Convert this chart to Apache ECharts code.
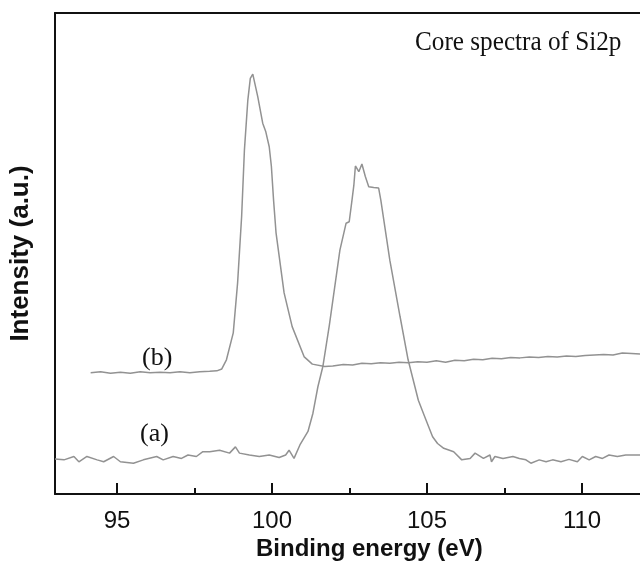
<!DOCTYPE html>
<html>
<head>
<meta charset="utf-8">
<script src="https://cdn.jsdelivr.net/npm/echarts@6/dist/echarts.min.js"></script>
<style>
  html, body { margin: 0; padding: 0; background: #fff; }
  #chart { width: 640px; height: 572px; }
</style>
</head>
<body>
<div id="chart"></div>
<script>
// Si2p core spectra (intensity in a.u., 0-100)
var energyA = [93.00, 93.29, 93.61, 93.77, 94.03, 94.36, 94.57, 94.89, 95.11, 95.53,
    95.85, 96.28, 96.49, 96.81, 97.08, 97.29, 97.56, 97.77, 97.99, 98.31,
    98.63, 98.82, 98.95, 99.27, 99.59, 99.91, 100.23, 100.44, 100.55, 100.71,
    100.90, 101.16, 101.32, 101.48, 101.64, 101.85, 102.19, 102.39, 102.49, 102.58,
    102.64, 102.69, 102.80, 102.90, 103.01, 103.12, 103.28, 103.44, 103.49, 103.51,
    103.80, 104.13, 104.39, 104.72, 104.91, 105.18, 105.34, 105.54, 105.86, 106.12,
    106.39, 106.55, 106.82, 107.03, 107.08, 107.19, 107.45, 107.77, 107.98, 108.19,
    108.35, 108.62, 108.84, 109.05, 109.32, 109.58, 109.85, 110.01, 110.23, 110.44,
    110.66, 110.87, 111.14, 111.41, 111.87];
var intensityA = [7.3, 7.1, 7.8, 6.7, 7.8, 7.1, 6.7, 7.8, 6.7, 6.4,
    7.1, 7.8, 7.1, 7.8, 7.4, 8.1, 7.8, 8.8, 8.8, 9.1,
    8.5, 9.8, 8.5, 8.1, 7.8, 8.1, 7.6, 8.1, 9.1, 7.4,
    10.2, 13.0, 16.8, 22.3, 26.5, 35.1, 50.7, 56.3, 56.6, 61.1,
    64.2, 68.2, 67.0, 68.6, 66.0, 63.9, 63.7, 63.6, 63.4, 61.1,
    48.6, 36.9, 27.9, 19.5, 16.3, 11.9, 10.5, 9.5, 8.8, 7.1,
    7.4, 8.5, 7.4, 8.1, 6.7, 7.8, 7.4, 7.8, 7.4, 7.1,
    6.4, 7.1, 6.7, 7.1, 6.7, 7.2, 6.7, 7.8, 7.1, 7.8,
    7.4, 8.1, 7.8, 8.1, 8.1];

var energyB = [94.15, 94.47, 94.79, 95.11, 95.43, 95.75, 96.07, 96.39, 96.71, 97.03,
    97.35, 97.67, 97.99, 98.22, 98.38, 98.53, 98.75, 98.89, 99.02, 99.11,
    99.22, 99.30, 99.38, 99.43, 99.54, 99.70, 99.80, 99.91, 99.98, 100.05,
    100.13, 100.39, 100.65, 101.04, 101.30, 101.70, 101.96, 102.3, 102.6, 102.9,
    103.2, 103.5, 103.8, 104.1, 104.4, 104.7, 105.0, 105.3, 105.6, 105.9,
    106.2, 106.5, 106.8, 107.1, 107.4, 107.7, 108.0, 108.3, 108.6, 108.9,
    109.2, 109.5, 109.8, 110.1, 110.4, 110.7, 111.0, 111.3, 111.6, 111.87];
var intensityB = [25.2, 25.4, 25.1, 25.3, 25.1, 25.4, 25.2, 25.3, 25.2, 25.4,
    25.2, 25.4, 25.5, 25.6, 26.0, 27.9, 33.5, 43.9, 57.7, 71.5,
    81.9, 86.4, 87.3, 87.1, 82.6, 77.1, 75.3, 72.2, 68.1, 61.1,
    54.3, 41.8, 34.8, 28.5, 27.0, 26.5, 26.6, 26.9, 26.8, 27.2,
    27.1, 27.3, 27.2, 27.4, 27.3, 27.5, 27.4, 27.7, 27.4, 27.8,
    27.7, 28.0, 27.9, 28.2, 28.1, 28.4, 28.3, 28.5, 28.4, 28.6,
    28.5, 28.7, 28.6, 28.8, 28.9, 29.0, 28.9, 29.3, 29.2, 29.1];

var majorTicks = [95, 100, 105, 110];
var minorTicks = [97.5, 102.5, 107.5];

function pairs(xs, ys) {
    return xs.map(function (x, i) { return [x, ys[i]]; });
}

var chart = echarts.init(document.getElementById('chart'));
var lineColor = '#929292';
var sans = 'Liberation Sans, Arial, sans-serif';
var serif = 'Liberation Serif, Times New Roman, serif';

chart.setOption({
    animation: false,
    backgroundColor: '#fff',
    grid: { left: 51, top: 13, right: 0, bottom: 78 },
    xAxis: [
        {
            type: 'value', min: 93, max: 111.87, position: 'bottom',
            axisLine: { lineStyle: { color: '#111', width: 2 } },
            axisTick: { inside: true, length: 11, customValues: majorTicks, lineStyle: { color: '#111', width: 2 } },
            axisLabel: { customValues: majorTicks, margin: 15, fontSize: 24, color: '#111', fontFamily: sans },
            splitLine: { show: false }
        },
        {
            type: 'value', min: 93, max: 111.87, position: 'bottom',
            axisLine: { show: false },
            axisTick: { inside: true, length: 6, customValues: minorTicks, lineStyle: { color: '#111', width: 2 } },
            axisLabel: { show: false },
            splitLine: { show: false }
        },
        {
            type: 'value', min: 93, max: 111.87, position: 'top',
            axisLine: { lineStyle: { color: '#111', width: 2 } },
            axisTick: { show: false },
            axisLabel: { show: false },
            splitLine: { show: false }
        }
    ],
    yAxis: {
        type: 'value', min: 0, max: 100,
        name: 'Intensity (a.u.)', nameLocation: 'middle', nameRotate: 90, nameGap: 21,
        nameTextStyle: { fontSize: 26, fontWeight: 'bold', color: '#111', fontFamily: sans },
        axisLine: { show: true, lineStyle: { color: '#111', width: 2 } },
        axisTick: { show: false },
        axisLabel: { show: false },
        splitLine: { show: false }
    },
    graphic: [
        { type: 'text', left: 256, top: 537,
          style: { text: 'Binding energy (eV)', font: 'bold 24px ' + sans, fill: '#111' } },
        { type: 'text', x: 415, y: 29, scaleX: 0.9,
          style: { text: 'Core spectra of Si2p', font: '28px ' + serif, fill: '#111' } },
        { type: 'text', left: 142, top: 345,
          style: { text: '(b)', font: '26px ' + serif, fill: '#111' } },
        { type: 'text', left: 140, top: 421,
          style: { text: '(a)', font: '26px ' + serif, fill: '#111' } }
    ],
    series: [
        {
            name: '(a)', type: 'line', xAxisIndex: 0, data: pairs(energyA, intensityA),
            showSymbol: false, lineStyle: { color: lineColor, width: 1.5 }
        },
        {
            name: '(b)', type: 'line', xAxisIndex: 0, data: pairs(energyB, intensityB),
            showSymbol: false, lineStyle: { color: lineColor, width: 1.5 }
        }
    ]
});
</script>
</body>
</html>
